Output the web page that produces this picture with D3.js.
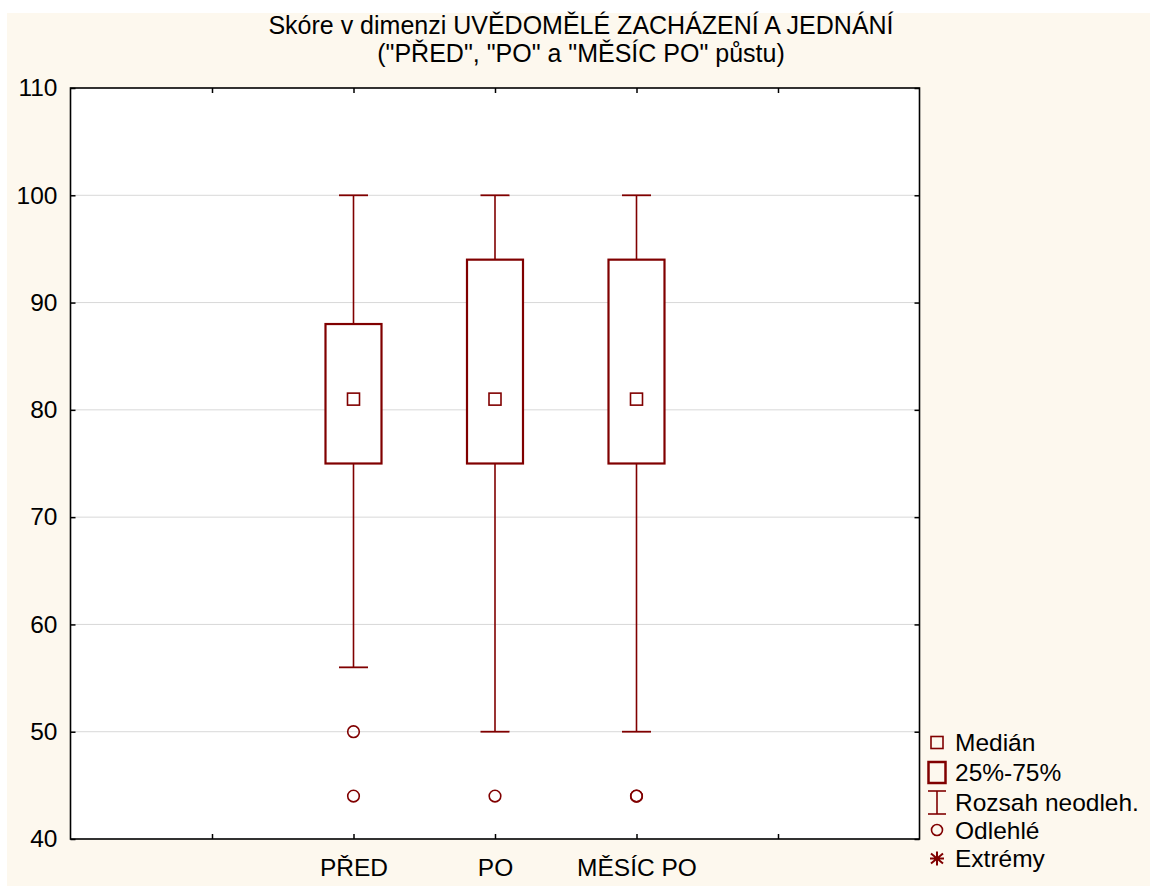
<!DOCTYPE html>
<html>
<head>
<meta charset="utf-8">
<script src="https://cdn.jsdelivr.net/npm/d3@7"></script>
<style>
  html, body { margin: 0; padding: 0; background: #ffffff; }
  svg { display: block; }
  text { font-family: "Liberation Sans", Arial, sans-serif; fill: #000; }
</style>
</head>
<body>
<svg id="chart" width="1150" height="886"></svg>
<script>
// Box-plot summary per period
const categories   = ["PŘED", "PO", "MĚSÍC PO"];
const whiskerLow   = [56, 50, 50];
const q1           = [75, 75, 75];
const median       = [81, 81, 81];
const q3           = [88, 94, 94];
const whiskerHigh  = [100, 100, 100];
const outliers     = [[50, 44], [44], [44, 44]];

const yTicks = [40, 50, 60, 70, 80, 90, 100, 110];
const legendLabels = ["Medián", "25%-75%", "Rozsah neodleh.", "Odlehlé", "Extrémy"];

const titleLines = [
  "Skóre v dimenzi UVĚDOMĚLÉ ZACHÁZENÍ A JEDNÁNÍ",
  "(\"PŘED\", \"PO\" a \"MĚSÍC PO\" půstu)"
];

const RED = "#800000";
const svg = d3.select("#chart");

// page background
svg.append("rect").attr("x", 7).attr("y", 13).attr("width", 1143).attr("height", 873)
  .attr("fill", "#fdf8ee");

const plotL = 70.5, plotR = 919.5, plotT = 88, plotB = 839;

const y = d3.scaleLinear().domain([40, 110]).range([plotB, plotT]);
// category slots 2,3,4 on a 0..6 axis
const x = d3.scaleLinear().domain([0, 6]).range([plotL, plotR]);
const slot = i => i + 2;

// plot area
svg.append("rect").attr("x", plotL).attr("y", plotT)
  .attr("width", plotR - plotL).attr("height", plotB - plotT).attr("fill", "#ffffff");

// horizontal grid
svg.append("g").selectAll("line")
  .data(yTicks.filter(t => t > 40 && t < 110))
  .join("line")
  .attr("x1", plotL).attr("x2", plotR)
  .attr("y1", d => y(d)).attr("y2", d => y(d))
  .attr("stroke", "#d8d8d8").attr("stroke-width", 1);

// axes
const fontSize = 24.5;
const yAxis = svg.append("g").attr("transform", `translate(${plotL},0)`)
  .call(d3.axisLeft(y).tickValues(yTicks).tickSize(-5).tickPadding(13).tickFormat(d3.format("d")));
const yAxisR = svg.append("g").attr("transform", `translate(${plotR},0)`)
  .call(d3.axisRight(y).tickValues(yTicks).tickSize(-5).tickFormat(""));
const xAxisB = svg.append("g").attr("transform", `translate(0,${plotB})`)
  .call(d3.axisBottom(x).tickValues([1, 2, 3, 4, 5]).tickSize(-5).tickPadding(20)
    .tickFormat(d => (d >= 2 && d <= 4) ? categories[d - 2] : ""));
const xAxisT = svg.append("g").attr("transform", `translate(0,${plotT})`)
  .call(d3.axisTop(x).tickValues([1, 2, 3, 4, 5]).tickSize(-5).tickFormat(""));

[yAxis, yAxisR, xAxisB, xAxisT].forEach(g => {
  g.select(".domain").remove();
  g.selectAll(".tick line").attr("stroke", "#000").attr("stroke-width", 1.5);
  g.selectAll(".tick text").attr("font-size", fontSize).attr("font-family", "Liberation Sans, Arial, sans-serif").attr("fill", "#000");
});

// frame
svg.append("rect").attr("x", plotL).attr("y", plotT)
  .attr("width", plotR - plotL).attr("height", plotB - plotT)
  .attr("fill", "none").attr("stroke", "#000").attr("stroke-width", 1.6);

// boxes
const boxW = 56, capW = 29, medS = 12;
const g = svg.append("g");
categories.forEach((c, i) => {
  const cx = x(slot(i));
  // whiskers
  g.append("line").attr("x1", cx).attr("x2", cx)
    .attr("y1", y(whiskerHigh[i])).attr("y2", y(q3[i]))
    .attr("stroke", RED).attr("stroke-width", 1.6);
  g.append("line").attr("x1", cx).attr("x2", cx)
    .attr("y1", y(q1[i])).attr("y2", y(whiskerLow[i]))
    .attr("stroke", RED).attr("stroke-width", 1.6);
  [whiskerHigh[i], whiskerLow[i]].forEach(v => {
    g.append("line").attr("x1", cx - capW / 2).attr("x2", cx + capW / 2)
      .attr("y1", y(v)).attr("y2", y(v))
      .attr("stroke", RED).attr("stroke-width", 1.8);
  });
  // interquartile box
  g.append("rect").attr("x", cx - boxW / 2).attr("y", y(q3[i]))
    .attr("width", boxW).attr("height", y(q1[i]) - y(q3[i]))
    .attr("fill", "#fff").attr("stroke", RED).attr("stroke-width", 2.2);
  // median marker
  g.append("rect").attr("x", cx - medS / 2).attr("y", y(median[i]) - medS / 2)
    .attr("width", medS).attr("height", medS)
    .attr("fill", "#fff").attr("stroke", RED).attr("stroke-width", 1.6);
  // outliers
  outliers[i].forEach(v => {
    g.append("circle").attr("cx", cx).attr("cy", y(v)).attr("r", 5.8)
      .attr("fill", "none").attr("stroke", RED).attr("stroke-width", 1.6);
  });
});

// title
svg.append("g").selectAll("text").data(titleLines).join("text")
  .attr("x", 581).attr("y", (d, i) => 34 + i * 28)
  .attr("text-anchor", "middle").attr("font-size", 25)
  .text(d => d);

// legend
const lx = 937, tx = 955;
const lg = svg.append("g");
const rowsY = [742.5, 772.5, 802.5, 830, 858.5];
lg.append("rect").attr("x", lx - 6).attr("y", rowsY[0] - 6).attr("width", 12).attr("height", 12)
  .attr("fill", "none").attr("stroke", RED).attr("stroke-width", 1.6);
lg.append("rect").attr("x", lx - 8.5).attr("y", rowsY[1] - 10.5).attr("width", 17).attr("height", 21)
  .attr("fill", "none").attr("stroke", RED).attr("stroke-width", 2.5);
lg.append("line").attr("x1", lx).attr("x2", lx).attr("y1", rowsY[2] - 11.5).attr("y2", rowsY[2] + 11.5)
  .attr("stroke", RED).attr("stroke-width", 1.6);
[-11.5, 11.5].forEach(dy => lg.append("line")
  .attr("x1", lx - 9).attr("x2", lx + 9).attr("y1", rowsY[2] + dy).attr("y2", rowsY[2] + dy)
  .attr("stroke", RED).attr("stroke-width", 1.6));
lg.append("circle").attr("cx", lx).attr("cy", rowsY[3]).attr("r", 5.5)
  .attr("fill", "none").attr("stroke", RED).attr("stroke-width", 1.6);
lg.append("path").attr("transform", `translate(${lx},${rowsY[4]})`)
  .attr("d", "M0,-7V7M-6,-5L6,5M-6,5L6,-5M-7,0H7")
  .attr("stroke", RED).attr("stroke-width", 2).attr("fill", "none");
lg.selectAll("text").data(legendLabels).join("text")
  .attr("x", tx).attr("y", (d, i) => rowsY[i] + 8.5)
  .attr("font-size", 24.5).text(d => d);
</script>
</body>
</html>
